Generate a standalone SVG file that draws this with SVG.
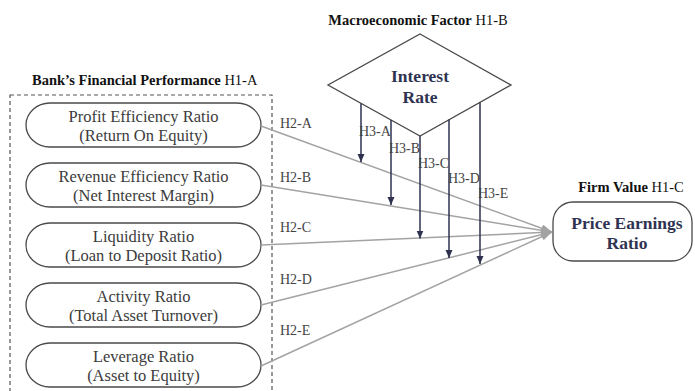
<svg xmlns="http://www.w3.org/2000/svg" width="695" height="391" viewBox="0 0 695 391">
<style>
.title{font-family:"Liberation Serif","Times New Roman",serif;font-size:14.5px;fill:#111}
.title .b{font-weight:bold}
.node{fill:#fff;stroke:#4a4a4a;stroke-width:1.3}
.ntext{font-family:"Liberation Serif","Times New Roman",serif;font-size:16.5px;fill:#3c3c3c;text-anchor:middle}
.btext{font-family:"Liberation Serif","Times New Roman",serif;font-size:17.5px;font-weight:bold;fill:#2f3352;text-anchor:middle}
.lbl{font-family:"Liberation Serif","Times New Roman",serif;font-size:14px;fill:#444}
.gline{stroke:#a3a3a3;stroke-width:1.5;fill:none}
.vline{stroke:#2e3250;stroke-width:1.5;fill:none}
</style>
<defs>
<marker id="ag" markerUnits="userSpaceOnUse" markerWidth="12" markerHeight="10" refX="11" refY="4" orient="auto">
<path d="M0,0 L11,4 L0,8 Z" fill="#a3a3a3"/>
</marker>
<marker id="av" markerUnits="userSpaceOnUse" markerWidth="10" markerHeight="10" refX="8" refY="3.5" orient="auto">
<path d="M0,0 L8,3.5 L0,7 Z" fill="#2e3250"/>
</marker>
</defs>

<g id="group-bank">
<rect x="10" y="95" width="262" height="310" fill="none" stroke="#555" stroke-width="1.2" stroke-dasharray="4,3"/>
<text class="title" x="32" y="85"><tspan class="b">Bank’s Financial Performance</tspan> H1-A</text>
</g>

<g id="node-roe">
<rect class="node" x="26" y="103" width="235" height="44" rx="24" ry="22"/>
<text class="ntext" x="143.5" y="122">Profit Efficiency Ratio</text>
<text class="ntext" x="143.5" y="141">(Return On Equity)</text>
</g>
<g id="node-nim">
<rect class="node" x="26" y="163" width="235" height="44" rx="24" ry="22"/>
<text class="ntext" x="143.5" y="182">Revenue Efficiency Ratio</text>
<text class="ntext" x="143.5" y="201">(Net Interest Margin)</text>
</g>
<g id="node-ldr">
<rect class="node" x="26" y="223" width="235" height="44" rx="24" ry="22"/>
<text class="ntext" x="143.5" y="242">Liquidity Ratio</text>
<text class="ntext" x="143.5" y="261">(Loan to Deposit Ratio)</text>
</g>
<g id="node-tat">
<rect class="node" x="26" y="283" width="235" height="44" rx="24" ry="22"/>
<text class="ntext" x="143.5" y="302">Activity Ratio</text>
<text class="ntext" x="143.5" y="321">(Total Asset Turnover)</text>
</g>
<g id="node-ate">
<rect class="node" x="26" y="343" width="235" height="44" rx="24" ry="22"/>
<text class="ntext" x="143.5" y="362">Leverage Ratio</text>
<text class="ntext" x="143.5" y="381">(Asset to Equity)</text>
</g>

<g id="node-interest">
<text class="title" x="418" y="25" text-anchor="middle"><tspan class="b">Macroeconomic Factor</tspan> H1-B</text>
<polygon class="node" points="420,34 511,85 420,136 328,85"/>
<text class="btext" x="420" y="82">Interest</text>
<text class="btext" x="420" y="103">Rate</text>
</g>

<g id="node-per">
<text class="title" x="631" y="192" text-anchor="middle"><tspan class="b">Firm Value</tspan> H1-C</text>
<rect class="node" x="553" y="202" width="139" height="59" rx="20" ry="20"/>
<text class="btext" x="627" y="229">Price Earnings</text>
<text class="btext" x="627" y="249">Ratio</text>
</g>

<g id="connectors">
<line class="gline" x1="261" y1="126" x2="552" y2="232" marker-end="url(#ag)"/>
<line class="gline" x1="261" y1="185" x2="552" y2="232" marker-end="url(#ag)"/>
<line class="gline" x1="261" y1="245" x2="552" y2="232" marker-end="url(#ag)"/>
<line class="gline" x1="261" y1="305" x2="552" y2="232" marker-end="url(#ag)"/>
<line class="gline" x1="261" y1="366" x2="552" y2="232" marker-end="url(#ag)"/>
<text class="lbl" x="280" y="128">H2-A</text>
<text class="lbl" x="280" y="182">H2-B</text>
<text class="lbl" x="280" y="232">H2-C</text>
<text class="lbl" x="280" y="284">H2-D</text>
<text class="lbl" x="280" y="335">H2-E</text>

<line class="vline" x1="361" y1="103.5" x2="361" y2="162" marker-end="url(#av)"/>
<line class="vline" x1="391" y1="120" x2="391" y2="205" marker-end="url(#av)"/>
<line class="vline" x1="420" y1="136" x2="420" y2="238.5" marker-end="url(#av)"/>
<line class="vline" x1="449" y1="119.5" x2="449" y2="258" marker-end="url(#av)"/>
<line class="vline" x1="480" y1="102.5" x2="480" y2="264" marker-end="url(#av)"/>
<text class="lbl" x="359" y="136">H3-A</text>
<text class="lbl" x="389" y="153">H3-B</text>
<text class="lbl" x="418" y="168">H3-C</text>
<text class="lbl" x="448" y="183">H3-D</text>
<text class="lbl" x="478" y="198">H3-E</text>
</g>
</svg>
